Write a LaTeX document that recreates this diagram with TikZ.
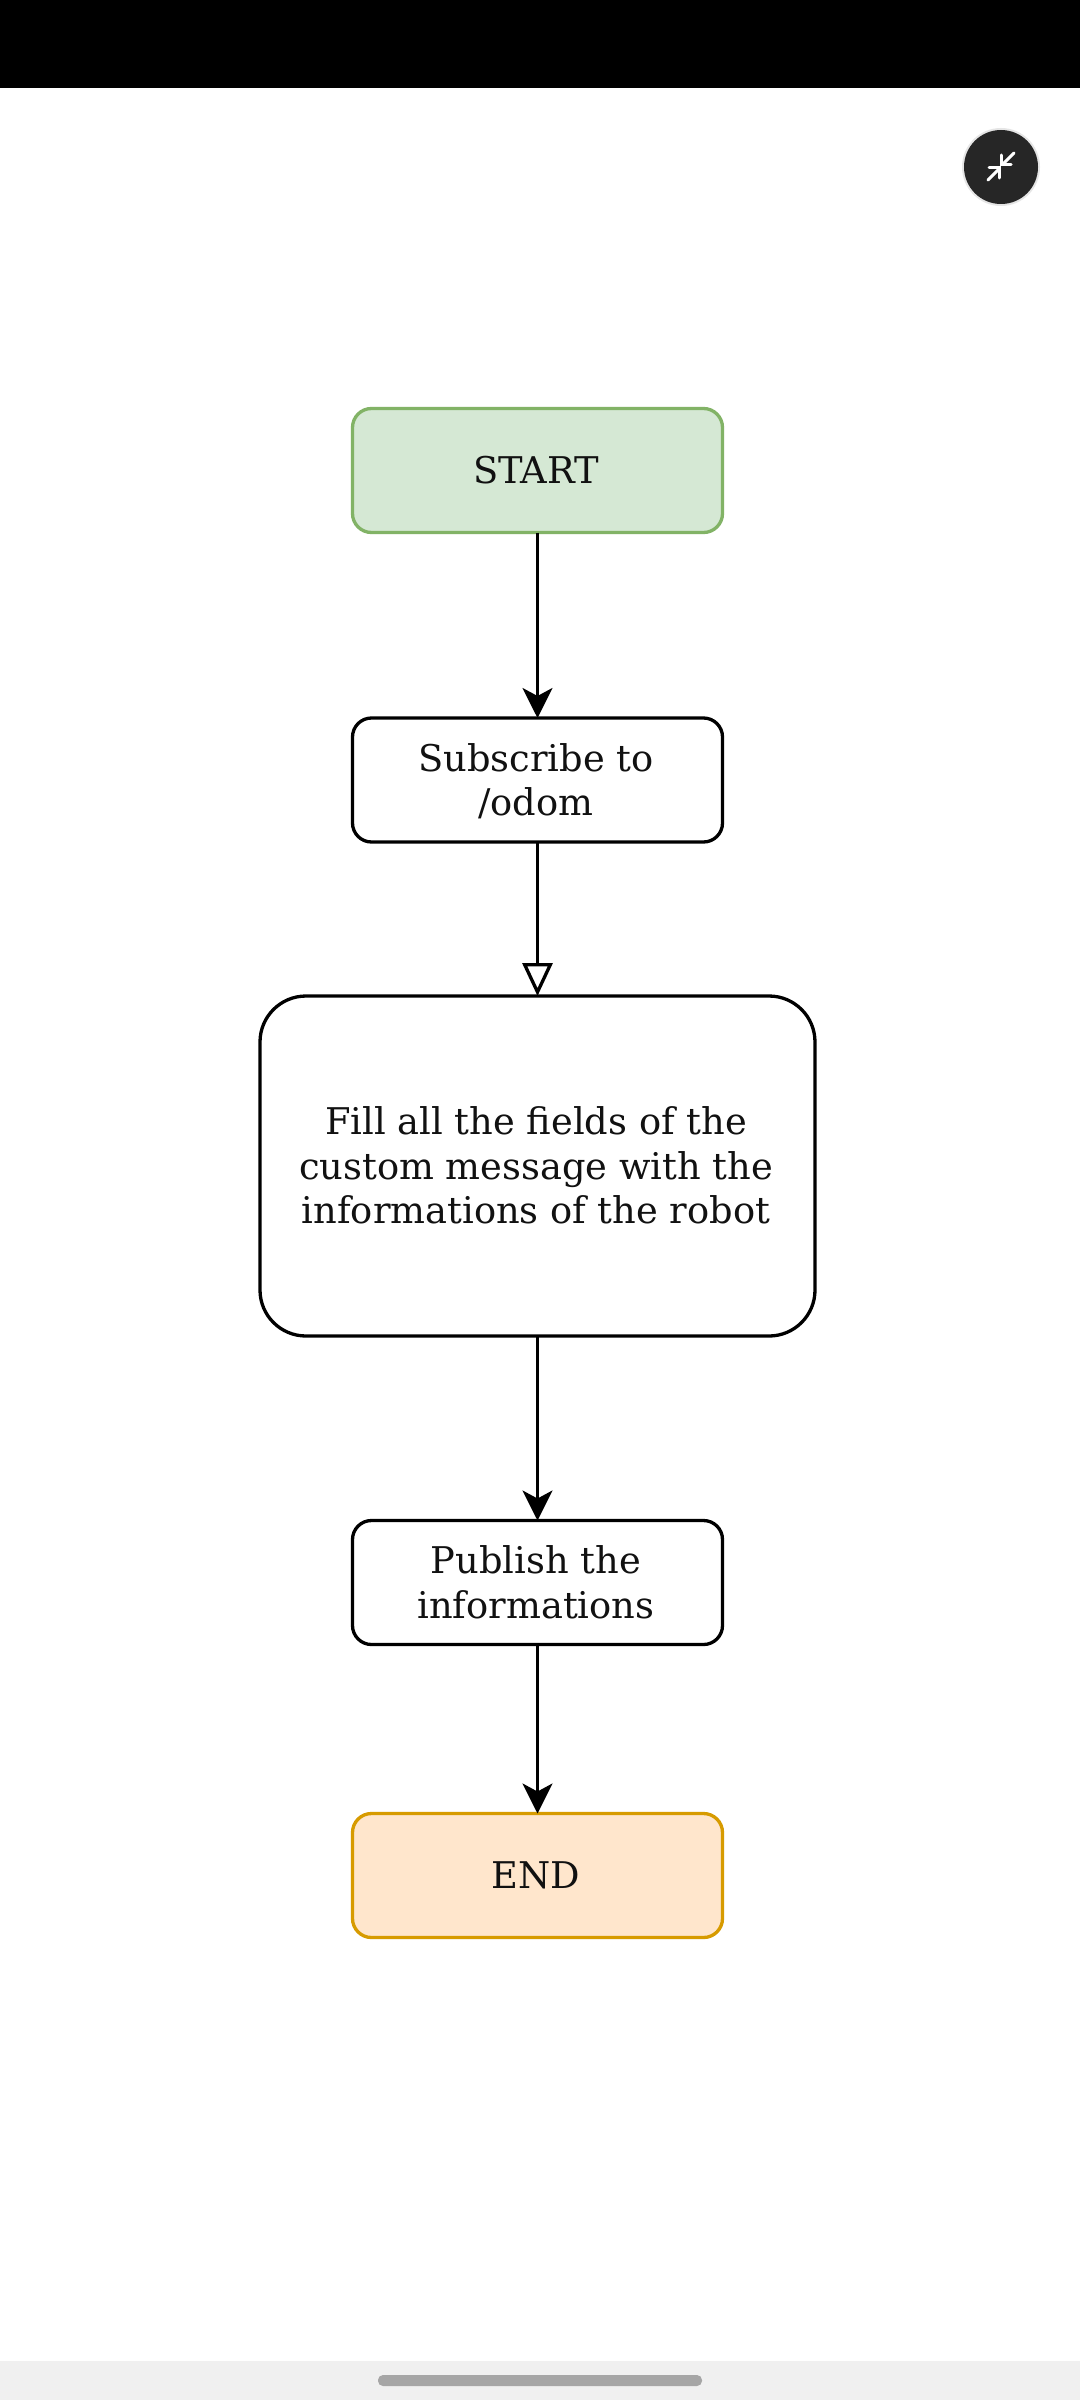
\documentclass[tikz,border=0pt]{standalone}
\usepackage{fontspec}
\setmainfont{DejaVu Serif}
\usetikzlibrary{arrows.meta}
\definecolor{startfill}{HTML}{D5E8D4}
\definecolor{startline}{HTML}{82B366}
\definecolor{endfill}{HTML}{FFE6CC}
\definecolor{endline}{HTML}{D79B00}
\definecolor{txt}{HTML}{111111}
\newcommand\lbl[1]{\vbox{\kern9pt\hbox{\tabular{@{}c@{}}#1\endtabular\hspace{3pt}}}}
\tikzset{
  x=1pt,y=-1pt,
  flowbox/.style={draw=black,fill=white,line width=3.3pt,rectangle,rounded corners=19pt,
    minimum width=370pt,minimum height=124pt,outer sep=0pt,inner sep=0pt,
    text=txt,font=\fontsize{36.8}{44.5}\selectfont},
  bigbox/.style={flowbox,rounded corners=46pt,minimum width=555pt,minimum height=340pt},
  startbox/.style={flowbox,draw=startline,fill=startfill},
  endbox/.style={flowbox,draw=endline,fill=endfill},
  solidarrow/.style={draw=black,line width=3.3pt,-{Stealth[length=30pt,width=30pt,inset=8pt]}},
  openarrow/.style={draw=black,line width=3.3pt,-{Triangle[open,fill=white,length=33pt,width=30pt,line width=3.3pt]}},
  iconline/.style={draw=white,line width=3pt,line cap=round}
}
\begin{document}
\begin{tikzpicture}
\useasboundingbox (0,0) rectangle (1080,2400);
\fill[white] (0,0) rectangle (1080,2400);
\fill[black] (0,0) rectangle (1080,88);
\fill[black!6] (0,2361) rectangle (1080,2400);
\fill[black!35,rounded corners=5pt] (378,2375) rectangle (702,2386);
% round button
\fill[black!10] (1001,167) circle (39);
\fill[black!85] (1001,167) circle (37);
\draw[iconline] (1014,153) -- (1003,164);
\draw[iconline] (1001,155) -- (1001,165) -- (1011,165);
\draw[iconline] (988,180) -- (999,169);
\draw[iconline] (989,168) -- (999,168) -- (999,178);
% nodes
\node[startbox] (start) at (537.5,470.5) {\lbl{START}};
\node[flowbox] (sub) at (537.5,780) {\lbl{Subscribe to\\/odom}};
\node[bigbox] (fill) at (537.5,1166) {\lbl{Fill all the fields of the\\custom message with the\\informations of the robot}};
\node[flowbox] (pub) at (537.5,1582.5) {\lbl{Publish the\\informations}};
\node[endbox] (end) at (537.5,1875.5) {\lbl{END}};
\draw[solidarrow] (start) -- (sub);
\draw[openarrow] (sub) -- (fill);
\draw[solidarrow] (fill) -- (pub);
\draw[solidarrow] (pub) -- (end);
\end{tikzpicture}
\end{document}
